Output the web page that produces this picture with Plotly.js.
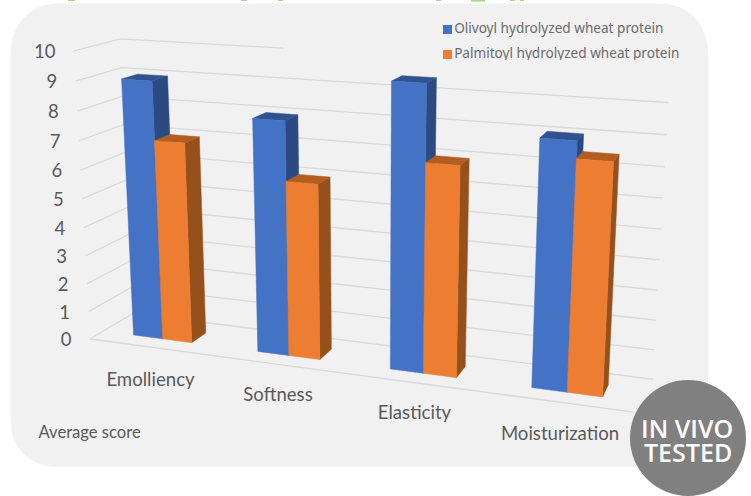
<!DOCTYPE html>
<html><head><meta charset="utf-8">
<script src="https://cdn.plot.ly/plotly-3.0.1.min.js"></script>
<style>html,body{margin:0;padding:0;background:#fff}#c{width:751px;height:496px}</style></head>
<body><div id="c"></div>
<script>
const categories = ["Emolliency","Softness","Elasticity","Moisturization"];
const olivoyl = [9.0, 8.0, 9.5, 8.05];
const palmitoyl = [7.0, 6.0, 7.0, 7.5];
const seriesNames = ["Olivoyl hydrolyzed wheat protein","Palmitoyl hydrolyzed wheat protein"];
const valueTicks = [0,1,2,3,4,5,6,7,8,9,10];

function P(u,d,v){
  const w = 1 - 0.125*u + 0.0608*d - 0.0054*v;
  return [(90 + 470*u + 51.1*d - 2*v)/w, (339 + 22.4*u - 6.5*d - 29.08*v - 0.25*d*v)/w];
}
const FONT = "Lato, sans-serif", TXT = "#595959";
const traces = [];
function poly(pts,color){
  traces.push({type:"scatter",mode:"lines",x:pts.map(p=>p[0]).concat(pts[0][0]),y:pts.map(p=>p[1]).concat(pts[0][1]),
    fill:"toself",fillcolor:color,line:{color:color,width:0.5},hoverinfo:"skip",showlegend:false});
}
valueTicks.forEach(v=>{
  const end = v===10 ? 0.325 : 1;
  const a=P(0,0,v), b=P(0,1,v), c=P(end,1,v);
  traces.push({type:"scatter",mode:"lines",x:[a[0],b[0],c[0]],y:[a[1],b[1],c[1]],line:{color:"#d9d9d9",width:1.3},hoverinfo:"skip",showlegend:false});
});
const f0=P(0,0,0), f1=P(0.99,0,0);
traces.push({type:"scatter",mode:"lines",x:[f0[0],f1[0]],y:[f0[1],f1[1]],line:{color:"#d9d9d9",width:1.3},hoverinfo:"skip",showlegend:false});

function bar(u0,u1,v,front,side,top){
  const d0=0.3,d1=0.66;
  poly([P(u1,d0,0),P(u1,d1,0),P(u1,d1,v),P(u1,d0,v)],side);
  poly([P(u0,d0,v),P(u1,d0,v),P(u1,d1,v),P(u0,d1,v)],top);
  poly([P(u0,d0,0),P(u1,d0,0),P(u1,d0,v),P(u0,d0,v)],front);
}
categories.forEach((c,i)=>{
  const m=(i+0.5)/categories.length-0.002;
  bar(m-0.06,m,olivoyl[i],"#4472C4","#2C4A82","#30528F");
  bar(m,m+0.059,palmitoyl[i],"#ED7D31","#96501C","#B35D20");
});
// value labels
traces.push({type:"scatter",mode:"text",x:valueTicks.map(v=>P(0,0,v)[0]-18.5),y:valueTicks.map(v=>P(0,0,v)[1]+2.5),
  text:valueTicks.map(String),textposition:"middle left",textfont:{family:FONT,size:18.5,color:TXT},hoverinfo:"skip",showlegend:false});
// category labels
const catX=[150.5,278,414.5,560], catY=[381,396,414.5,435.5];
traces.push({type:"scatter",mode:"text",x:catX,y:catY,text:categories,textposition:"middle center",textfont:{family:FONT,size:18.6,color:TXT},hoverinfo:"skip",showlegend:false});
traces.push({type:"scatter",mode:"text",x:[38.5],y:[433.5],text:["Average score"],textposition:"middle right",textfont:{family:FONT,size:16.6,color:TXT},hoverinfo:"skip",showlegend:false});
// legend
traces.push({type:"scatter",mode:"markers+text",x:[447.5,447.5],y:[29.5,54.5],text:seriesNames,textposition:"middle right",
  marker:{symbol:"square",size:9,color:["#4472C4","#ED7D31"]},textfont:{family:"Noto Sans, sans-serif",size:13.6,color:"#6b6b6b"},hoverinfo:"skip",showlegend:false});
// badge
const r=58,cx=688,cy=438;
const greenBits=[[68,75,1],[241,247,1],[278,283,1],[436,441,1],[471,485,1.6],[510,515,1],[520,524,1]];
const layout={width:751,height:496,margin:{l:0,r:0,t:0,b:0},paper_bgcolor:"#fff",plot_bgcolor:"rgba(0,0,0,0)",showlegend:false,
  xaxis:{range:[0,751],visible:false,fixedrange:true},
  yaxis:{range:[496,0],visible:false,fixedrange:true},
  shapes:[
    {type:"path",layer:"below",path:"M10.5,53 C10.5,25 30,3.5 58,3.5 L660,3.5 C688,3.5 708,25 708,53 L708,420 C708,448 688,467 660,467 L58,467 C30,467 10.5,448 10.5,420 Z",fillcolor:"#f1f1f1",line:{width:0}},
    {type:"rect",layer:"above",x0:430,x1:700,y0:60,y1:67,fillcolor:"#f1f1f1",line:{width:0}},
    {type:"circle",layer:"above",x0:cx-r,x1:cx+r,y0:cy-r,y1:cy+r,fillcolor:"#808080",line:{width:0}}
  ].concat(greenBits.map(g=>({type:"rect",layer:"above",x0:g[0],x1:g[1],y0:0,y1:g[2],fillcolor:"#a4dc8c",line:{width:0}}))),
  annotations:[
    {x:687,y:428,xref:"x",yref:"y",text:"IN VIVO",showarrow:false,font:{family:"Open Sans, sans-serif",size:25,color:"#fff",weight:600}},
    {x:687.5,y:451.5,xref:"x",yref:"y",text:"TESTED",showarrow:false,font:{family:"Open Sans, sans-serif",size:25,color:"#fff",weight:600}}
  ]
};
Plotly.newPlot("c",traces,layout,{displayModeBar:false,staticPlot:true});
</script></body></html>
